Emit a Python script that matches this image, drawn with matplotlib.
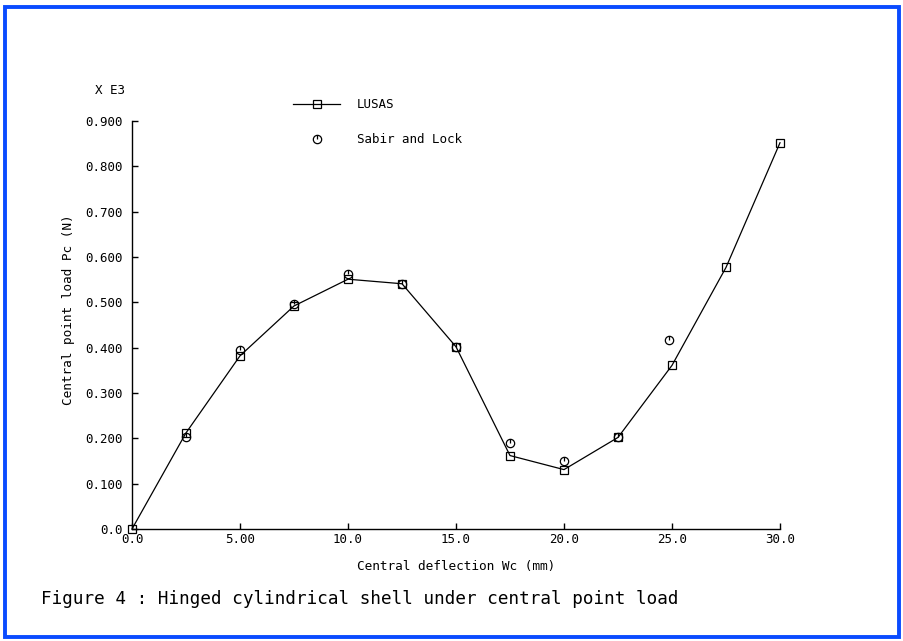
import matplotlib
matplotlib.use("Agg")
import matplotlib.pyplot as plt
from matplotlib.path import Path
from matplotlib.patches import Rectangle

# data (load in units of E3 N)
lusas_x = [0.0, 2.5, 5.0, 7.5, 10.0, 12.5, 15.0, 17.5, 20.0, 22.5, 25.0, 27.5, 30.0]
lusas_y = [0.0, 0.212, 0.382, 0.492, 0.551, 0.541, 0.402, 0.162, 0.131, 0.202, 0.361, 0.577, 0.852]
sabir_x = [2.5, 5.0, 7.5, 10.0, 12.5, 15.0, 17.5, 20.0, 22.5, 24.85]
sabir_y = [0.204, 0.394, 0.497, 0.562, 0.541, 0.402, 0.190, 0.149, 0.202, 0.417]

xticks = [0, 5, 10, 15, 20, 25, 30]
xtick_labels = ["0.0", "5.00", "10.0", "15.0", "20.0", "25.0", "30.0"]
yticks = [0.0, 0.1, 0.2, 0.3, 0.4, 0.5, 0.6, 0.7, 0.8, 0.9]
ytick_labels = ["0.0", "0.100", "0.200", "0.300", "0.400", "0.500",
                "0.600", "0.700", "0.800", "0.900"]

plt.rcParams['font.family'] = ['DejaVu Sans Mono']

W, H = 904, 641
fig = plt.figure(figsize=(W / 100, H / 100), dpi=100)
fig.patch.set_facecolor('white')

# axes placed by pixel box: x 132..780, y 121..529
x0, x1, ytop, ybot = 132, 780, 121, 529
ax = fig.add_axes([x0 / W, 1 - ybot / H, (x1 - x0) / W, (ybot - ytop) / H])
ax.set_xlim(0, 30)
ax.set_ylim(0, 0.9)
for s in ['top', 'right']:
    ax.spines[s].set_visible(False)
for s in ['left', 'bottom']:
    ax.spines[s].set_linewidth(1.0)
    ax.spines[s].set_clip_on(False)

ax.set_xticks(xticks)
ax.set_xticklabels(xtick_labels)
ax.set_yticks(yticks)
ax.set_yticklabels(ytick_labels)
ax.tick_params(direction='in', length=4, width=1.0, labelsize=9)
ax.tick_params(axis='y', pad=7)
ax.tick_params(axis='x', pad=3)

# circle with a small tick, like the original symbol
circ_tick = Path.make_compound_path(
    Path.unit_circle(),
    Path([[0, 1], [0, 0]], [Path.MOVETO, Path.LINETO]))

ax.plot(lusas_x, lusas_y, '-', color='black', linewidth=0.9, marker='s',
        markersize=6.3, markerfacecolor='none', markeredgecolor='black',
        markeredgewidth=0.9, clip_on=False, label='LUSAS')
ax.plot(sabir_x, sabir_y, linestyle='None', marker=circ_tick, markersize=6,
        markerfacecolor='none', markeredgecolor='black', markeredgewidth=0.9,
        clip_on=False, label='Sabir and Lock')

ax.legend(loc='upper left', bbox_to_anchor=(293 / W, 1 - 98 / H),
          bbox_transform=fig.transFigure, frameon=False, fontsize=9,
          handlelength=3.8, handletextpad=1.3, labelspacing=1.75,
          borderpad=0, borderaxespad=0, numpoints=1)

ax.set_xlabel('Central deflection Wc (mm)', fontsize=9.2, labelpad=10)
fig.text(69 / W, 1 - 310 / H, 'Central point load Pc (N)', rotation=90,
         fontsize=9.2, ha='center', va='center')
fig.text(110 / W, 1 - 91 / H, 'X E3', fontsize=9, ha='center', va='center')

fig.text(41 / W, 1 - 599 / H,
         'Figure 4 : Hinged cylindrical shell under central point load',
         fontsize=12.7, ha='left', va='center')

# blue frame around the whole picture
fig.add_artist(Rectangle((5.5 / W, 1 - 636.5 / H), 894 / W, 630 / H,
                         transform=fig.transFigure, fill=False,
                         edgecolor='#0a4bff', linewidth=2.8))

fig.savefig('out.png', dpi=100)
